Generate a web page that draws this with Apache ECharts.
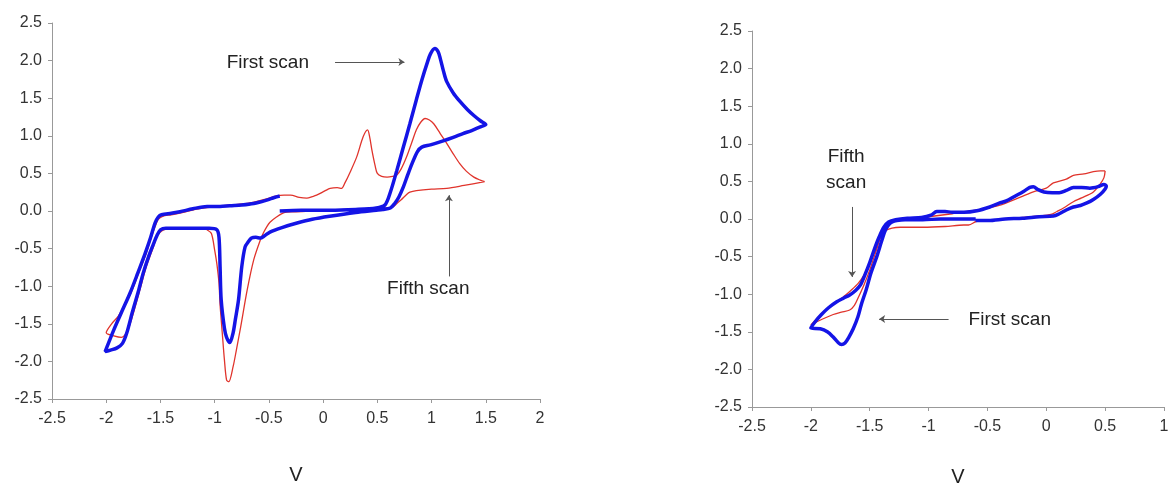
<!DOCTYPE html>
<html>
<head>
    <meta charset="UTF-8">
    <title>CV scans</title>
    <script src="https://cdn.jsdelivr.net/npm/echarts@6/dist/echarts.min.js"></script>
    <style type="text/css">
        html, body, #main {
            height: 100%;
            width: 100%;
            margin: 0;
            padding: 0;
            background: #fff;
        }
    </style>
</head>
<body>
<div id="main"></div>
<script type="text/javascript">
    // left panel, first scan (thick blue)
    var firstLeft = [
        [-0.40, 0.00], [-0.20, 0.01], [0.06, 0.01], [0.30, 0.02], [0.49, 0.04], [0.57, 0.08], [0.62, 0.25],
        [0.68, 0.54], [0.74, 0.85], [0.80, 1.16], [0.86, 1.48], [0.91, 1.74], [0.96, 1.97], [0.99, 2.09],
        [1.03, 2.16], [1.06, 2.12], [1.08, 2.03], [1.11, 1.86], [1.14, 1.72], [1.20, 1.57], [1.26, 1.46],
        [1.33, 1.35], [1.39, 1.27], [1.45, 1.20], [1.50, 1.15], [1.45, 1.12], [1.37, 1.07], [1.29, 1.03],
        [1.20, 0.98], [1.10, 0.93], [0.99, 0.88], [0.91, 0.85], [0.87, 0.79], [0.82, 0.63], [0.78, 0.48],
        [0.74, 0.32], [0.70, 0.19], [0.66, 0.10], [0.62, 0.04], [0.55, 0.02], [0.49, 0.01], [0.30, -0.02],
        [0.06, -0.07], [-0.10, -0.11], [-0.24, -0.16], [-0.38, -0.22], [-0.49, -0.28], [-0.54, -0.33],
        [-0.58, -0.36], [-0.62, -0.35], [-0.66, -0.36], [-0.69, -0.41], [-0.72, -0.48], [-0.75, -0.74],
        [-0.78, -1.18], [-0.81, -1.45], [-0.83, -1.62], [-0.86, -1.75], [-0.89, -1.68], [-0.91, -1.56],
        [-0.94, -1.18], [-0.95, -0.75], [-0.96, -0.35], [-0.98, -0.25], [-1.05, -0.23], [-1.20, -0.23],
        [-1.35, -0.23], [-1.45, -0.23], [-1.50, -0.25], [-1.53, -0.32], [-1.57, -0.46], [-1.61, -0.61],
        [-1.66, -0.83], [-1.70, -1.05], [-1.76, -1.35], [-1.81, -1.62], [-1.85, -1.76], [-1.90, -1.82],
        [-1.96, -1.85], [-2.01, -1.87], [-1.98, -1.76], [-1.93, -1.58], [-1.86, -1.35], [-1.78, -1.09],
        [-1.71, -0.83], [-1.64, -0.56], [-1.59, -0.35], [-1.55, -0.16], [-1.52, -0.08], [-1.49, -0.05],
        [-1.40, -0.03], [-1.32, -0.01], [-1.20, 0.03], [-1.07, 0.06], [-0.95, 0.06], [-0.86, 0.07],
        [-0.75, 0.08], [-0.64, 0.10], [-0.52, 0.145], [-0.45, 0.18], [-0.40, 0.20]
    ];
    // left panel, fifth scan (thin red)
    var fifthLeft = [
        [1.49, 0.39], [1.30, 0.34], [1.14, 0.30], [1.00, 0.29], [0.86, 0.27], [0.80, 0.25], [0.77, 0.22],
        [0.72, 0.15], [0.68, 0.10], [0.64, 0.05], [0.55, 0.04], [0.40, 0.03], [0.20, 0.02], [0.06, 0.01],
        [-0.10, 0.00], [-0.27, -0.01], [-0.36, -0.02], [-0.43, -0.08], [-0.49, -0.15], [-0.52, -0.21],
        [-0.55, -0.29], [-0.58, -0.39], [-0.64, -0.65], [-0.70, -1.05], [-0.76, -1.54], [-0.80, -1.85],
        [-0.83, -2.07], [-0.87, -2.27], [-0.89, -2.25], [-0.91, -1.98], [-0.93, -1.62], [-0.95, -1.25],
        [-0.96, -0.96], [-0.98, -0.70], [-1.00, -0.52], [-1.03, -0.30], [-1.07, -0.25], [-1.11, -0.23],
        [-1.30, -0.23], [-1.42, -0.23], [-1.47, -0.25], [-1.50, -0.28], [-1.53, -0.33], [-1.57, -0.50],
        [-1.63, -0.74], [-1.68, -1.00], [-1.74, -1.31], [-1.80, -1.58], [-1.86, -1.68], [-1.93, -1.66],
        [-2.00, -1.62], [-1.95, -1.50], [-1.89, -1.40], [-1.82, -1.22], [-1.76, -1.05], [-1.70, -0.82],
        [-1.63, -0.56], [-1.58, -0.33], [-1.55, -0.21], [-1.52, -0.11], [-1.48, -0.07], [-1.40, -0.05],
        [-1.30, -0.02], [-1.15, 0.03], [-1.00, 0.06], [-0.86, 0.08], [-0.70, 0.10], [-0.55, 0.15],
        [-0.43, 0.20], [-0.36, 0.21], [-0.30, 0.21], [-0.22, 0.18], [-0.15, 0.17], [-0.10, 0.19],
        [-0.06, 0.21], [0.02, 0.27], [0.065, 0.30], [0.13, 0.31], [0.17, 0.30], [0.20, 0.37], [0.25, 0.52],
        [0.31, 0.72], [0.37, 0.99], [0.41, 1.08], [0.43, 0.98], [0.45, 0.81], [0.48, 0.60], [0.50, 0.50],
        [0.54, 0.46], [0.59, 0.45], [0.64, 0.46], [0.68, 0.48], [0.72, 0.56], [0.77, 0.72], [0.82, 0.92],
        [0.86, 1.08], [0.90, 1.18], [0.94, 1.23], [0.98, 1.21], [1.02, 1.16], [1.08, 1.03], [1.14, 0.90],
        [1.20, 0.76], [1.26, 0.63], [1.32, 0.53], [1.39, 0.45], [1.45, 0.41], [1.49, 0.39]
    ];
    // right panel, first scan
    var firstRight = [
        [-0.60, 0.00], [-0.75, 0.00], [-0.90, 0.00], [-1.05, -0.01], [-1.20, -0.01], [-1.27, -0.02],
        [-1.31, -0.04], [-1.34, -0.08], [-1.37, -0.16], [-1.40, -0.30], [-1.44, -0.50], [-1.49, -0.72],
        [-1.53, -0.94], [-1.57, -1.13], [-1.60, -1.30], [-1.64, -1.46], [-1.68, -1.58], [-1.71, -1.65],
        [-1.74, -1.67], [-1.77, -1.64], [-1.81, -1.57], [-1.86, -1.50], [-1.92, -1.46], [-2.00, -1.45],
        [-1.96, -1.36], [-1.91, -1.27], [-1.85, -1.18], [-1.78, -1.10], [-1.72, -1.05], [-1.67, -1.01],
        [-1.62, -0.95], [-1.58, -0.88], [-1.54, -0.74], [-1.50, -0.58], [-1.46, -0.40], [-1.42, -0.24],
        [-1.38, -0.11], [-1.34, -0.04], [-1.28, -0.01], [-1.18, 0.01], [-1.06, 0.02], [-0.98, 0.05],
        [-0.93, 0.10], [-0.86, 0.10], [-0.80, 0.09], [-0.70, 0.09], [-0.59, 0.11], [-0.48, 0.16],
        [-0.40, 0.21], [-0.34, 0.24], [-0.27, 0.30], [-0.19, 0.37], [-0.14, 0.42], [-0.11, 0.43],
        [-0.07, 0.39], [-0.02, 0.36], [0.05, 0.35], [0.11, 0.35], [0.17, 0.38], [0.23, 0.42], [0.30, 0.42],
        [0.37, 0.41], [0.44, 0.43], [0.49, 0.46], [0.51, 0.44], [0.50, 0.40], [0.46, 0.33], [0.40, 0.26],
        [0.34, 0.21], [0.29, 0.18], [0.23, 0.16], [0.17, 0.12], [0.11, 0.07], [0.06, 0.04], [-0.06, 0.03],
        [-0.20, 0.01], [-0.35, 0.00], [-0.49, -0.02], [-0.60, -0.02]
    ];
    // right panel, fifth scan
    var fifthRight = [
        [0.50, 0.64], [0.49, 0.55], [0.46, 0.47], [0.40, 0.36], [0.30, 0.28], [0.23, 0.23], [0.15, 0.15],
        [0.09, 0.10], [0.04, 0.06], [-0.05, 0.04], [-0.29, 0.01], [-0.50, -0.02], [-0.59, -0.03],
        [-0.66, -0.08], [-0.70, -0.08], [-0.86, -0.10], [-1.05, -0.11], [-1.24, -0.11], [-1.31, -0.12],
        [-1.36, -0.15], [-1.40, -0.22], [-1.44, -0.40], [-1.50, -0.68], [-1.55, -0.88], [-1.59, -1.02],
        [-1.63, -1.15], [-1.67, -1.21], [-1.74, -1.24], [-1.81, -1.27], [-1.90, -1.33], [-2.00, -1.41],
        [-1.94, -1.31], [-1.88, -1.22], [-1.80, -1.12], [-1.72, -1.03], [-1.66, -0.95], [-1.60, -0.86],
        [-1.55, -0.75], [-1.50, -0.58], [-1.45, -0.40], [-1.40, -0.20], [-1.36, -0.09], [-1.31, -0.04],
        [-1.20, -0.01], [-1.00, 0.03], [-0.80, 0.07], [-0.58, 0.12], [-0.40, 0.18], [-0.22, 0.29],
        [-0.11, 0.36], [0.00, 0.41], [0.06, 0.48], [0.17, 0.53], [0.23, 0.58], [0.32, 0.60], [0.40, 0.63],
        [0.46, 0.64], [0.50, 0.64]
    ];

    var font = '"Liberation Sans", Arial, sans-serif';
    var blue = '#1414e6';
    var red = '#e0342c';

    function xAxisOf(idx, max) {
        return {
            type: 'value', gridIndex: idx, min: -2.5, max: max, interval: 0.5,
            name: 'V', nameLocation: 'middle', nameGap: idx === 0 ? 66 : 60,
            nameTextStyle: {fontFamily: font, fontSize: 20, color: '#222'},
            axisLine: {onZero: false, lineStyle: {color: '#999', width: 1}},
            axisTick: {show: true, length: 4, lineStyle: {color: '#999'}},
            axisLabel: {margin: 12, fontFamily: font, fontSize: 16, color: '#333'},
            splitLine: {show: false}
        };
    }
    function yAxisOf(idx) {
        return {
            type: 'value', gridIndex: idx, min: -2.5, max: 2.5, interval: 0.5,
            axisLine: {show: true, onZero: false, lineStyle: {color: '#999', width: 1}},
            axisTick: {show: true, length: 4, lineStyle: {color: '#999'}},
            axisLabel: {
                margin: 10, fontFamily: font, fontSize: 16, color: '#333',
                formatter: function (v) { return v.toFixed(1); }
            },
            splitLine: {show: false}
        };
    }
    // text + arrow annotations, placed in data space
    function notes(texts, arrows) {
        return {
            markPoint: {
                silent: true, symbol: 'circle', symbolSize: 0,
                label: {show: true, position: 'inside', fontFamily: font, fontSize: 19, color: '#222', lineHeight: 26},
                data: texts.map(function (t) { return {coord: t.at, label: {formatter: t.text}}; })
            },
            markLine: {
                silent: true, symbol: ['none', 'arrow'], symbolSize: 6,
                lineStyle: {color: '#555', width: 1, type: 'solid'},
                label: {show: false},
                data: arrows.map(function (a) { return [{coord: a[0]}, {coord: a[1]}]; })
            }
        };
    }
    function curve(name, data, idx, color, width, extra) {
        var s = {
            name: name, type: 'line', xAxisIndex: idx, yAxisIndex: idx, data: data,
            showSymbol: false, smooth: 0.3, lineStyle: {color: color, width: width}, itemStyle: {color: color}
        };
        if (extra) { s.markPoint = extra.markPoint; s.markLine = extra.markLine; }
        return s;
    }

    var mycharts = echarts.init(document.getElementById('main'));
    var option = {
        animation: false,
        grid: [
            {left: 52, top: 23, width: 488, height: 376, containLabel: false, outerBoundsMode: 'none'},
            {left: 752, top: 31, width: 412, height: 376, containLabel: false, outerBoundsMode: 'none'}
        ],
        xAxis: [xAxisOf(0, 2), xAxisOf(1, 1)],
        yAxis: [yAxisOf(0), yAxisOf(1)],
        series: [
            curve('Fifth scan', fifthLeft, 0, red, 1.3, notes(
                [{at: [-0.51, 1.97], text: 'First scan'}, {at: [0.97, -1.04], text: 'Fifth scan'}],
                [[[0.11, 1.98], [0.75, 1.98]], [[1.16, -0.87], [1.16, 0.21]]]
            )),
            curve('First scan', firstLeft, 0, blue, 3.5),
            curve('Fifth scan', fifthRight, 1, red, 1.3, notes(
                [{at: [-1.70, 0.66], text: 'Fifth\nscan'}, {at: [-0.31, -1.34], text: 'First scan'}],
                [[[-1.65, 0.16], [-1.65, -0.77]], [[-0.83, -1.33], [-1.42, -1.33]]]
            )),
            curve('First scan', firstRight, 1, blue, 3.5)
        ]
    };
    mycharts.setOption(option);
</script>
</body>
</html>
